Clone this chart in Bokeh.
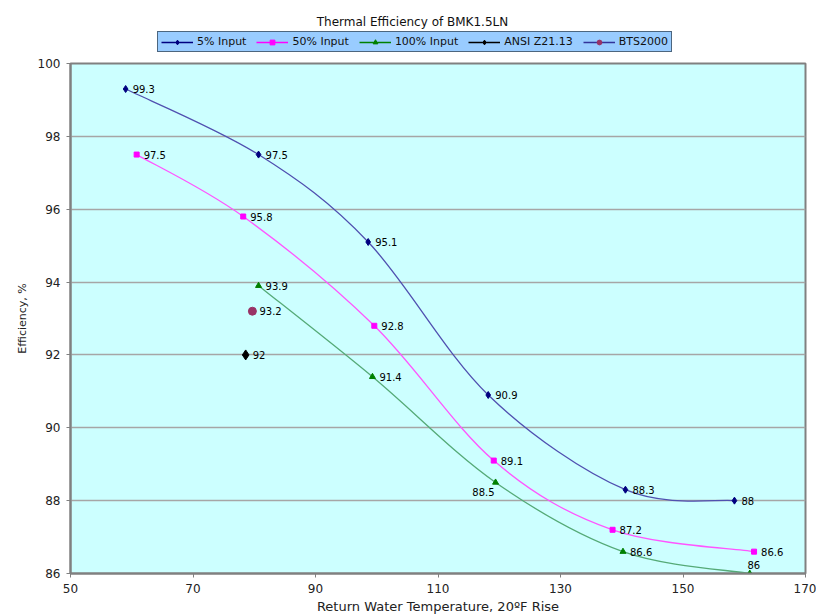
from bokeh.plotting import figure
from bokeh.models import Range1d, Legend, LegendItem, Label, FixedTicker, ColumnDataSource
from bokeh.layouts import column
from bokeh.core.properties import value
from bokeh.embed import file_html
from bokeh.resources import INLINE

# ---- data ----
x_5 = [59, 80.7, 98.6, 118.2, 140.6, 158.4]
y_5 = [99.3, 97.5, 95.1, 90.9, 88.3, 88]
x_50 = [60.8, 78.2, 99.6, 119.1, 138.5, 161.6]
y_50 = [97.5, 95.8, 92.8, 89.1, 87.2, 86.6]
x_100 = [80.7, 99.3, 119.4, 140.2, 160.9]
y_100 = [93.9, 91.4, 88.5, 86.6, 86]
x_ansi = [78.6]
y_ansi = [92]
x_bts = [79.7]
y_bts = [93.2]
x_ticks = [50, 70, 90, 110, 130, 150, 170]
y_ticks = [86, 88, 90, 92, 94, 96, 98, 100]
series_names = ["5% Input", "50% Input", "100% Input", "ANSI Z21.13", "BTS2000"]
title_text = "Thermal Efficiency of BMK1.5LN"

FONT = "DejaVu Sans"

# styles per series: (line colour, legend line colour, marker, marker size, marker colour)
styles = [
    ("#5050B0", "#000080", "diamond", 7, "#000080"),
    ("#FF55FF", "#FF00FF", "square", 5, "#FF00FF"),
    ("#55AA77", "#008000", "triangle", 6, "#008000"),
    ("black", "black", "diamond", 10, "black"),
    ("#333399", "#333399", "circle", 8, "#993366"),
]

all_x = [x_5, x_50, x_100, x_ansi, x_bts]
all_y = [y_5, y_50, y_100, y_ansi, y_bts]

# ---------------- header (title + legend) ----------------
# The series are drawn again here (outside this strip's visible range) only
# so that the legend can show their line + marker glyphs.
top = figure(width=816, height=55, toolbar_location=None, output_backend="svg",
             x_range=Range1d(0, 1), y_range=Range1d(0, 1), min_border=0)
top.axis.visible = False
top.grid.grid_line_color = None
top.outline_line_color = None
top.background_fill_color = "white"
top.border_fill_color = "white"

items = []
for name, xs, ys, (lc, llc, mk, ms, mc) in zip(series_names, all_x, all_y, styles):
    lr = top.line(xs, ys, line_color=llc, line_width=1.3)
    sr = top.scatter(xs, ys, marker=mk, size=min(ms, 7), color=mc)
    items.append(LegendItem(label=name, renderers=[lr, sr]))

legend = Legend(items=items, location=(87, 3), orientation="horizontal")
legend.background_fill_color = "#99CCFF"
legend.background_fill_alpha = 1
legend.border_line_color = "black"
legend.border_line_width = 1
legend.label_text_font = FONT
legend.label_text_font_size = "11px"
legend.label_text_color = "#111111"
legend.glyph_width = 32
legend.glyph_height = 12
legend.label_standoff = 4
legend.spacing = 10
legend.padding = 3
legend.margin = 0
legend.label_height = 12
top.add_layout(legend)

top.add_layout(Label(x=342, y=34, x_units="screen", y_units="screen",
                     text=title_text, text_font=FONT, text_font_size="12px",
                     text_color="#111111", text_align="center",
                     text_baseline="middle"))

# ---------------- main chart ----------------
p = figure(frame_width=735, frame_height=510, toolbar_location=None, output_backend="svg",
           x_range=Range1d(50, 170), y_range=Range1d(86, 100),
           min_border_left=70, min_border_right=11, min_border_top=8,
           min_border_bottom=39)
p.background_fill_color = "#CCFFFF"
p.border_fill_color = "white"
p.outline_line_color = "#808080"
p.outline_line_width = 2

p.xgrid.grid_line_color = None
p.ygrid.grid_line_color = "#A6A6A6"
p.ygrid.grid_line_width = 1.5

for ax in (p.xaxis[0], p.yaxis[0]):
    ax.axis_line_color = "#808080"
    ax.axis_line_width = 2
    ax.major_tick_line_color = "#808080"
    ax.major_tick_out = 4
    ax.major_tick_in = 0
    ax.minor_tick_line_color = None
    ax.major_label_text_font = FONT
    ax.major_label_text_font_size = "12px"
    ax.major_label_text_color = "#222222"
    ax.axis_label_text_font = FONT
    ax.axis_label_text_font_style = "normal"
    ax.axis_label_text_color = "#222222"

p.xaxis.axis_label_text_font_size = "13px"
p.yaxis.axis_label_text_font_size = "11px"
p.xaxis.ticker = FixedTicker(ticks=x_ticks)
p.yaxis.ticker = FixedTicker(ticks=y_ticks)
p.xaxis.axis_label = "Return Water Temperature, 20ºF Rise"
p.yaxis.axis_label = "Efficiency, %"
p.xaxis.major_label_standoff = 6
p.xaxis.axis_label_standoff = 3
p.yaxis.major_label_standoff = 6
p.yaxis.axis_label_standoff = 6


def smooth(xs, ys):
    n = len(xs)
    x0, y0, x1, y1, cx0, cy0, cx1, cy1 = [], [], [], [], [], [], [], []
    for i in range(n - 1):
        pa = (xs[i - 1], ys[i - 1]) if i > 0 else (xs[i], ys[i])
        pb = (xs[i], ys[i])
        pc = (xs[i + 1], ys[i + 1])
        pd = (xs[i + 2], ys[i + 2]) if i + 2 < n else (xs[i + 1], ys[i + 1])
        x0.append(pb[0]); y0.append(pb[1])
        x1.append(pc[0]); y1.append(pc[1])
        cx0.append(pb[0] + (pc[0] - pa[0]) / 6); cy0.append(pb[1] + (pc[1] - pa[1]) / 6)
        cx1.append(pc[0] - (pd[0] - pb[0]) / 6); cy1.append(pc[1] - (pd[1] - pb[1]) / 6)
    return ColumnDataSource(dict(x0=x0, y0=y0, x1=x1, y1=y1, cx0=cx0, cy0=cy0, cx1=cx1, cy1=cy1))


def curve(xs, ys, color):
    return p.bezier(x0="x0", y0="y0", x1="x1", y1="y1", cx0="cx0", cy0="cy0",
                    cx1="cx1", cy1="cy1", source=smooth(xs, ys),
                    line_color=color, line_width=1.3)


for xs, ys, (lc, llc, mk, ms, mc) in zip(all_x, all_y, styles):
    if len(xs) > 1:
        curve(xs, ys, lc)
for xs, ys, (lc, llc, mk, ms, mc) in zip(all_x, all_y, styles):
    p.scatter(xs, ys, marker=mk, size=ms, color=mc)


def labels(xs, ys, **kw):
    opts = dict(x_offset=7, y_offset=0, text_align="left", text_baseline="middle")
    opts.update(kw)
    p.text(xs, ys, text=[f"{v:g}" for v in ys], text_font=value(FONT),
           text_font_size="10px", text_color="black", **opts)


labels(x_5, y_5)
labels(x_50, y_50)
labels(x_100[:2] + x_100[3:4], y_100[:2] + y_100[3:4])
labels(x_100[2:3], y_100[2:3], x_offset=-1, y_offset=10, text_align="right")
labels(x_100[4:5], y_100[4:5], x_offset=4, y_offset=-9, text_align="center")
labels(x_ansi, y_ansi)
labels(x_bts, y_bts)

layout = column(top, p, spacing=0)
open("out.html", "w").write(file_html(layout, INLINE))
